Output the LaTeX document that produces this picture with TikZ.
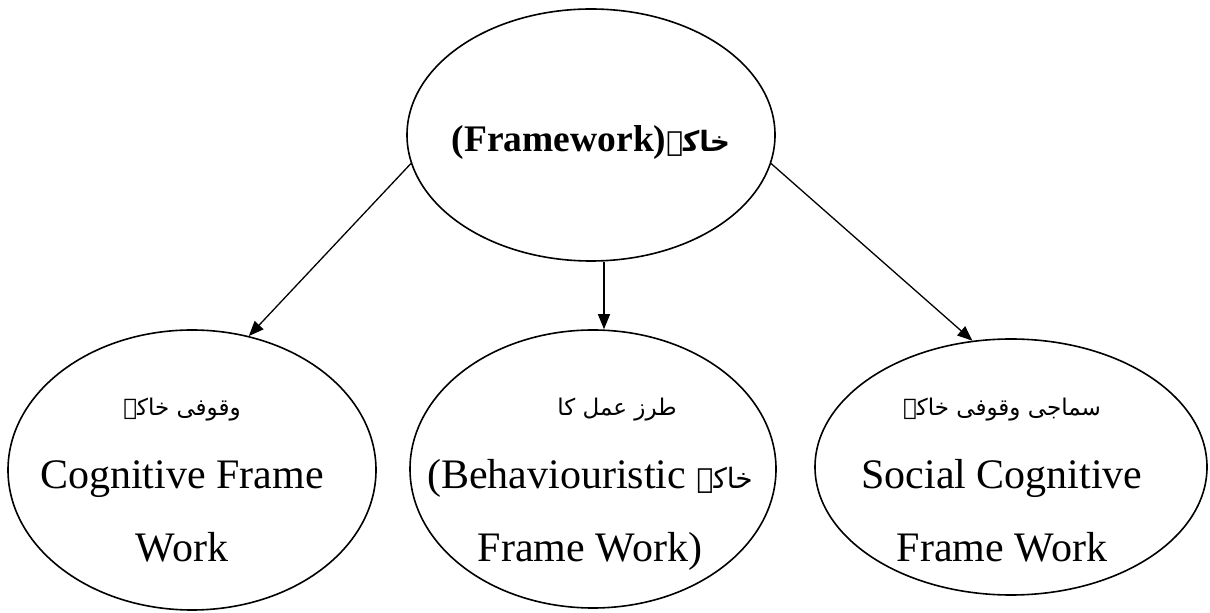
\documentclass[tikz,border=0pt]{standalone}
\usepackage{fontspec}
\setmainfont{Liberation Serif}
\newfontfamily\urdu[Script=Arabic]{DejaVu Sans}
\TeXXeTstate=1
\usetikzlibrary{positioning, shapes.geometric, arrows.meta}

\newcommand\ur[1]{{\urdu\fontsize{23}{30}\selectfont\rule{0pt}{30pt}\beginR #1\endR}}

\begin{document}
\begin{tikzpicture}[x=1pt, y=1pt]
    \tikzstyle{every node}=[font=\fontsize{42}{73}\selectfont]
    \tikzstyle{oval}=[draw, ellipse, line width=1.6pt, inner sep=0pt]
    \tikzstyle{link}=[-{Triangle[length=15pt,width=12pt]}, line width=1.3pt]
    \useasboundingbox (0,0) rectangle (1210,613);

    \node (top)  [oval, minimum width=368pt, minimum height=252pt] at (591,478)  {};
    \node (cog)  [oval, minimum width=368pt, minimum height=280pt] at (192,143)  {};
    \node (beh)  [oval, minimum width=366pt, minimum height=278pt] at (593,144)  {};
    \node (soc)  [oval, minimum width=392pt, minimum height=256pt] at (1011,146) {};

    \node (top text) [anchor=base, font=\fontsize{37.5}{45}\selectfont\bfseries] at (591,461)
        {\beginR{\urdu\fontsize{28}{34}\selectfont خاکہ}\beginL(Framework)\endL\endR};
    \node (cog text) [align=center] at (182,139)
        {\ur{وقوفی خاکہ}\\ Cognitive Frame\\ Work};
    \node (beh text) [align=center] at (590,135)
        {\hspace*{54pt}\ur{طرز عمل کا}\\
         \beginR{\urdu\fontsize{28}{34}\selectfont خاکہ} \beginL(Behaviouristic\endL\endR\\ Frame Work)};
    \node (soc text) [align=center] at (1002,139)
        {\ur{سماجی وقوفی خاکہ}\\ Social Cognitive\\ Frame Work};

    \draw [link] (top.189) -- (cog.67);
    \draw [link] ([xshift=13pt]top.south) -- ([xshift=11pt]beh.north);
    \draw [link] (top.351) -- (soc.107);
\end{tikzpicture}
\end{document}
